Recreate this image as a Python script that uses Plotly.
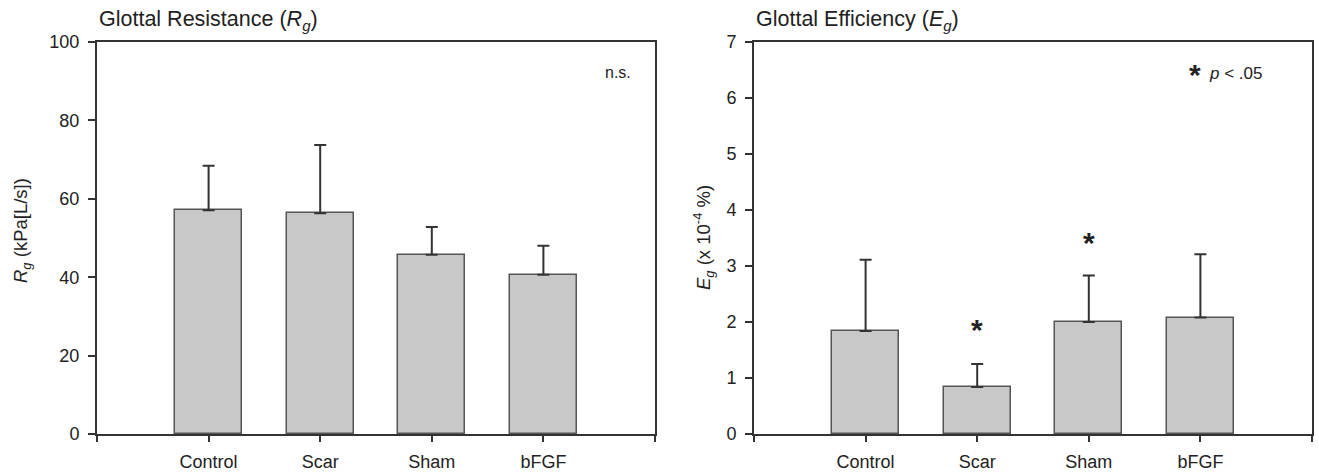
import plotly.graph_objects as go

categories = ["Control", "Scar", "Sham", "bFGF"]
x_pos = [1, 2, 3, 4]

rg_mean = [57.1, 56.3, 45.7, 40.6]
rg_err = [11.3, 17.4, 7.1, 7.4]

eg_mean = [1.84, 0.84, 2.00, 2.08]
eg_err = [1.27, 0.41, 0.83, 1.13]

star_cats = [2, 3]
star_y = [1.93, 3.50]

W, H = 1319, 474
FONT = "Liberation Sans, Arial, sans-serif"
LINE = "#333333"
BAR = "#c8c8c8"


def px_x(p):
    return p / W


def px_y(p):
    return 1 - p / H


fig = go.Figure()

fig.add_trace(go.Bar(
    x=x_pos, y=rg_mean, width=0.6, xaxis="x", yaxis="y",
    marker=dict(color=BAR, line=dict(color="#555555", width=1.5)),
    error_y=dict(type="data", array=rg_err, arrayminus=[0] * 4, symmetric=False,
                 width=6, thickness=2, color=LINE),
    showlegend=False, hoverinfo="skip"))

fig.add_trace(go.Bar(
    x=x_pos, y=eg_mean, width=0.6, xaxis="x2", yaxis="y2",
    marker=dict(color=BAR, line=dict(color="#555555", width=1.5)),
    error_y=dict(type="data", array=eg_err, arrayminus=[0] * 4, symmetric=False,
                 width=6, thickness=2, color=LINE),
    showlegend=False, hoverinfo="skip"))

xcommon = dict(range=[0, 5], tickvals=[0, 1, 2, 3, 4, 5],
               ticktext=[""] + categories + [""],
               ticks="outside", ticklen=6, tickwidth=1.5, tickcolor=LINE,
               showline=True, linecolor=LINE, linewidth=2, mirror=True,
               showgrid=False, zeroline=False, fixedrange=True, automargin=False,
               ticklabelstandoff=4,
               tickfont=dict(family=FONT, size=18, color="#222"))
ycommon = dict(ticks="outside", ticklen=7, tickwidth=1.5, tickcolor=LINE,
               showline=True, linecolor=LINE, linewidth=2, mirror=True,
               showgrid=False, zeroline=False, fixedrange=True, automargin=False,
               ticklabelstandoff=5,
               tickfont=dict(family=FONT, size=18, color="#222"))

ydom = [px_y(434), px_y(42)]

fig.update_layout(
    width=W, height=H, autosize=False,
    margin=dict(l=0, r=0, t=0, b=0, pad=0),
    paper_bgcolor="white", plot_bgcolor="white",
    bargap=0,
    xaxis=dict(domain=[px_x(97), px_x(655)], anchor="y", **xcommon),
    yaxis=dict(domain=ydom, anchor="x", range=[0, 100], dtick=20, **ycommon),
    xaxis2=dict(domain=[px_x(754), px_x(1312)], anchor="y2", **xcommon),
    yaxis2=dict(domain=ydom, anchor="x2", range=[0, 7], dtick=1, **ycommon),
)

ann = []
ann.append(dict(xref="paper", yref="paper", x=px_x(97), y=px_y(20), xanchor="left",
                yanchor="middle", showarrow=False,
                text="Glottal Resistance (<i>R<sub>g</sub></i>)",
                font=dict(family=FONT, size=21.5, color="#222")))
ann.append(dict(xref="paper", yref="paper", x=px_x(754), y=px_y(20), xanchor="left",
                yanchor="middle", showarrow=False,
                text="Glottal Efficiency (<i>E<sub>g</sub></i>)",
                font=dict(family=FONT, size=21.5, color="#222")))
ann.append(dict(xref="paper", yref="paper", x=px_x(22), y=px_y(231), xanchor="center",
                yanchor="middle", showarrow=False, textangle=-90,
                text="<i>R<sub>g</sub></i> (kPa[L/s])",
                font=dict(family=FONT, size=18.5, color="#222")))
ann.append(dict(xref="paper", yref="paper", x=px_x(703), y=px_y(238), xanchor="center",
                yanchor="middle", showarrow=False, textangle=-90,
                text="<i>E<sub>g</sub></i> (x 10<sup>-4</sup> %)",
                font=dict(family=FONT, size=18.5, color="#222")))
ann.append(dict(xref="paper", yref="paper", x=px_x(618), y=px_y(72), xanchor="center",
                yanchor="middle", showarrow=False, text="n.s.",
                font=dict(family=FONT, size=16, color="#222")))
ann.append(dict(xref="paper", yref="paper", x=px_x(1203), y=px_y(72), xanchor="right",
                yanchor="middle", showarrow=False, text="<b>*</b>",
                font=dict(family=FONT, size=30, color="#222"), yshift=-2))
ann.append(dict(xref="paper", yref="paper", x=px_x(1207), y=px_y(73), xanchor="left",
                yanchor="middle", showarrow=False, text="<i>p</i> &lt; .05",
                font=dict(family=FONT, size=17, color="#222")))
for xc, yc in zip(star_cats, star_y):
    ann.append(dict(xref="x2", yref="y2", x=xc, y=yc, xanchor="center",
                    yanchor="middle", showarrow=False, text="<b>*</b>", yshift=-4,
                    font=dict(family=FONT, size=30, color="#222")))

fig.update_layout(annotations=ann)
fig.write_html("out.html")
